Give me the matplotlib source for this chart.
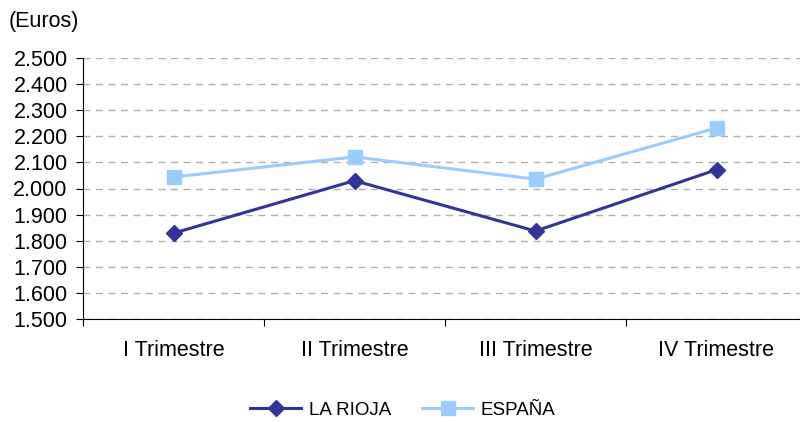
import matplotlib.pyplot as plt
from matplotlib.ticker import FuncFormatter, MultipleLocator

plt.rcParams['font.family'] = ['Liberation Sans', 'DejaVu Sans']

trimestres = ['I Trimestre', 'II Trimestre', 'III Trimestre', 'IV Trimestre']
la_rioja = [1829, 2030, 1837, 2072]
espana = [2044, 2121, 2036, 2232]

fig = plt.figure(figsize=(8, 4.22), dpi=100)
ax = fig.add_axes([83 / 800, 1 - 319 / 422, 724 / 800, 261 / 422])

x = range(len(trimestres))
ax.plot(x, la_rioja, color='#333399', lw=2.2, marker='D', ms=8.5, label='LA RIOJA', zorder=3)
ax.plot(x, espana, color='#99ccff', lw=2.2, marker='s', ms=10, label='ESPAÑA', zorder=3)

ax.set_xlim(-0.5, 3.5)
ax.set_ylim(1500, 2500)
ax.yaxis.set_major_locator(MultipleLocator(100))
ax.yaxis.set_major_formatter(FuncFormatter(lambda v, p: f'{v / 1000:.3f}'))
ax.grid(axis='y', color='#b0b0b0', ls=(0, (5, 4)), lw=1)
ax.set_axisbelow(True)

ax.set_xticks([i - 0.5 for i in range(5)])
ax.set_xticklabels([])
ax.set_xticks(list(x), minor=True)
ax.set_xticklabels(trimestres, minor=True)
ax.tick_params(axis='x', which='minor', length=0, pad=15, labelsize=15.5)
ax.tick_params(axis='x', which='major', length=5, direction='out')
ax.tick_params(axis='y', length=5, direction='out', labelsize=15.5, pad=6)

for s in ['top', 'right']:
    ax.spines[s].set_visible(False)
ax.spines['left'].set_color('black')
ax.spines['bottom'].set_color('black')

fig.text(9 / 800, 1 - 22 / 422, '(Euros)', fontsize=15.5, va='center', ha='left')

fig.legend(loc='center', bbox_to_anchor=(403 / 800, 1 - 410 / 422), ncol=2,
           frameon=False, fontsize=13.5, handlelength=2.7, columnspacing=1.65,
           handletextpad=0.43)

fig.savefig('out.png', dpi=100)
